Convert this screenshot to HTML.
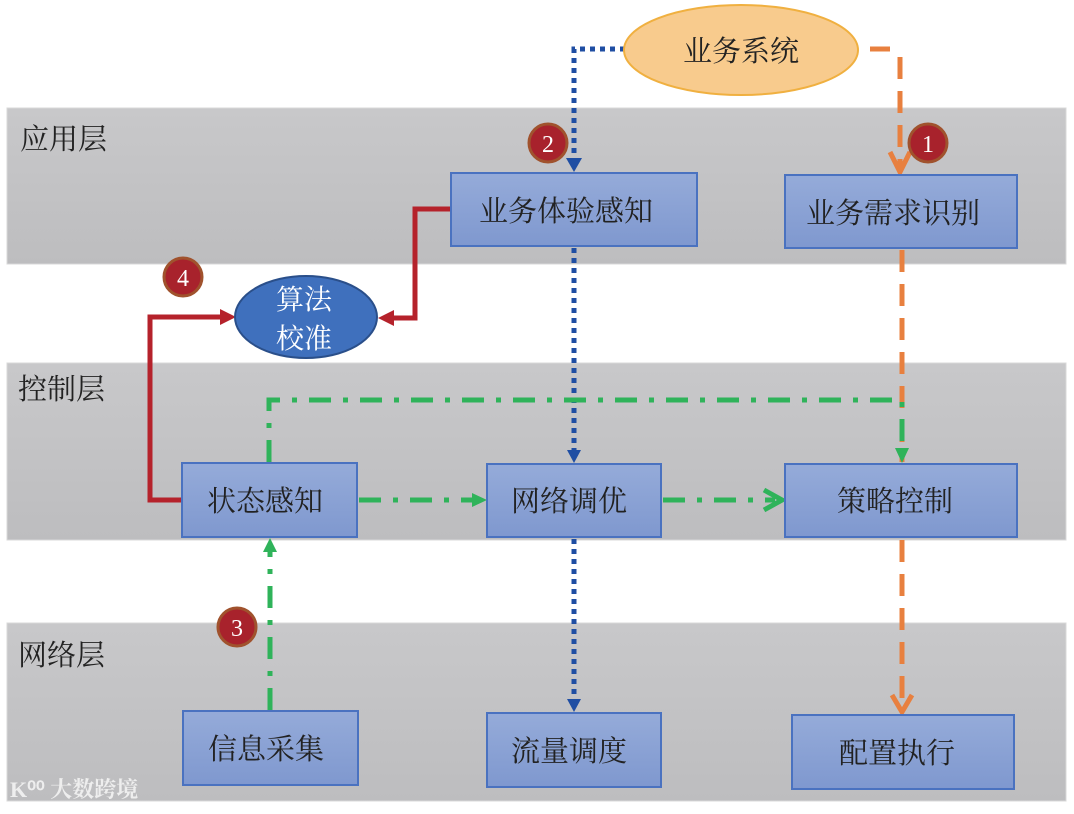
<!DOCTYPE html>
<html><head><meta charset="utf-8"><style>
html,body{margin:0;padding:0;background:#fff}
text{font-family:"Liberation Serif","Noto Serif CJK SC",serif}
</style></head><body>
<svg width="1074" height="809" viewBox="0 0 1074 809" xmlns="http://www.w3.org/2000/svg">
<defs>
<linearGradient id="band" x1="0" y1="0" x2="0" y2="1"><stop offset="0" stop-color="#c8c8ca"/><stop offset="1" stop-color="#bdbdbf"/></linearGradient>
<linearGradient id="box" x1="0" y1="0" x2="0" y2="1"><stop offset="0" stop-color="#95abd9"/><stop offset="1" stop-color="#7f98cf"/></linearGradient>
</defs>
<rect x="7" y="108" width="1059" height="156" fill="url(#band)" stroke="#d8d8d8"/>
<rect x="7" y="363" width="1059" height="177" fill="url(#band)" stroke="#d8d8d8"/>
<rect x="7" y="623" width="1059" height="178" fill="url(#band)" stroke="#d8d8d8"/>
<text x="20" y="149" font-size="29" fill="#222">应用层</text>
<text x="18" y="399" font-size="29" fill="#222">控制层</text>
<text x="18" y="665" font-size="29" fill="#222">网络层</text>
<text x="10" y="797" font-size="22" fill="#eee" font-weight="bold">K⁰⁰ 大数跨境</text>

<g stroke="#1f4ea3" stroke-width="5" stroke-dasharray="5,5" fill="none">
<path d="M625 49 H574 V160"/>
<path d="M574 248 V452"/>
<path d="M574 539 V700"/>
</g>
<g fill="#1f4ea3">
<polygon points="566,158 582,158 574,172"/>
<polygon points="567,450 581,450 574,463"/>
<polygon points="567,699 581,699 574,712"/>
</g>
<g stroke="#e8803f" stroke-width="5" fill="none">
<path d="M870 49 H890"/>
<path d="M900 57 V172" stroke-dasharray="22,12"/>
<path d="M902 250 V462" stroke-dasharray="22,12"/>
<path d="M902 540 V712" stroke-dasharray="22,12"/>
<path d="M890 152 L900 172 L910 152"/>
<path d="M892 695 L902 712 L912 695"/>
</g>
<g stroke="#2fb35a" stroke-width="5" fill="none" stroke-dasharray="22,12,5,12">
<path d="M269 462 V400 H902 V452"/>
<path d="M359 500 H475"/>
<path d="M663 500 H775"/>
<path d="M270 710 V548"/>
</g>
<g fill="#2fb35a">
<polygon points="895,448 909,448 902,463"/>
<polygon points="472,493 472,507 487,500"/>
<polygon points="263,552 277,552 270,538"/>
</g>
<path d="M764 490 L782 500 L764 510" stroke="#2fb35a" stroke-width="5" fill="none"/>
<g stroke="#b5222b" stroke-width="5" fill="none">
<path d="M451 209 H415 V318 H392"/>
<path d="M182 500 H150 V317 H222"/>
</g>
<g fill="#b5222b">
<polygon points="378,318 394,310 394,326"/>
<polygon points="236,317 220,309 220,325"/>
</g>

<ellipse cx="741" cy="50" rx="117" ry="45" fill="#f8cb8d" stroke="#f0b040" stroke-width="2"/>
<text x="741" y="61" font-size="29" text-anchor="middle" fill="#222">业务系统</text>
<ellipse cx="306" cy="317" rx="71" ry="41" fill="#3f70bd" stroke="#2a4f8a" stroke-width="2"/>
<text x="304" y="309" font-size="28" text-anchor="middle" fill="#fff">算法</text>
<text x="304" y="348" font-size="28" text-anchor="middle" fill="#fff">校准</text>

<g stroke="#4a72c0" stroke-width="2" fill="url(#box)">
<rect x="451" y="173" width="246" height="73"/>
<rect x="785" y="175" width="232" height="73"/>
<rect x="182" y="463" width="175" height="74"/>
<rect x="487" y="464" width="174" height="73"/>
<rect x="785" y="464" width="232" height="73"/>
<rect x="183" y="711" width="175" height="74"/>
<rect x="487" y="713" width="174" height="74"/>
<rect x="792" y="715" width="222" height="74"/>
</g>
<g font-size="29" text-anchor="middle" fill="#222">
<text x="566" y="221">业务体验感知</text>
<text x="893" y="223">业务需求识别</text>
<text x="265" y="511">状态感知</text>
<text x="569" y="511">网络调优</text>
<text x="895" y="511">策略控制</text>
<text x="266" y="759">信息采集</text>
<text x="569" y="761">流量调度</text>
<text x="897" y="763">配置执行</text>
</g>
<g fill="#a8222c" stroke="#a0522d" stroke-width="3">
<circle cx="548" cy="143" r="19"/>
<circle cx="928" cy="143" r="19"/>
<circle cx="183" cy="277" r="19"/>
<circle cx="237" cy="627" r="19"/>
</g>
<g font-size="24" text-anchor="middle" fill="#fff">
<text x="548" y="152">2</text>
<text x="928" y="152">1</text>
<text x="183" y="286">4</text>
<text x="237" y="636">3</text>
</g>
</svg>
</body></html>
